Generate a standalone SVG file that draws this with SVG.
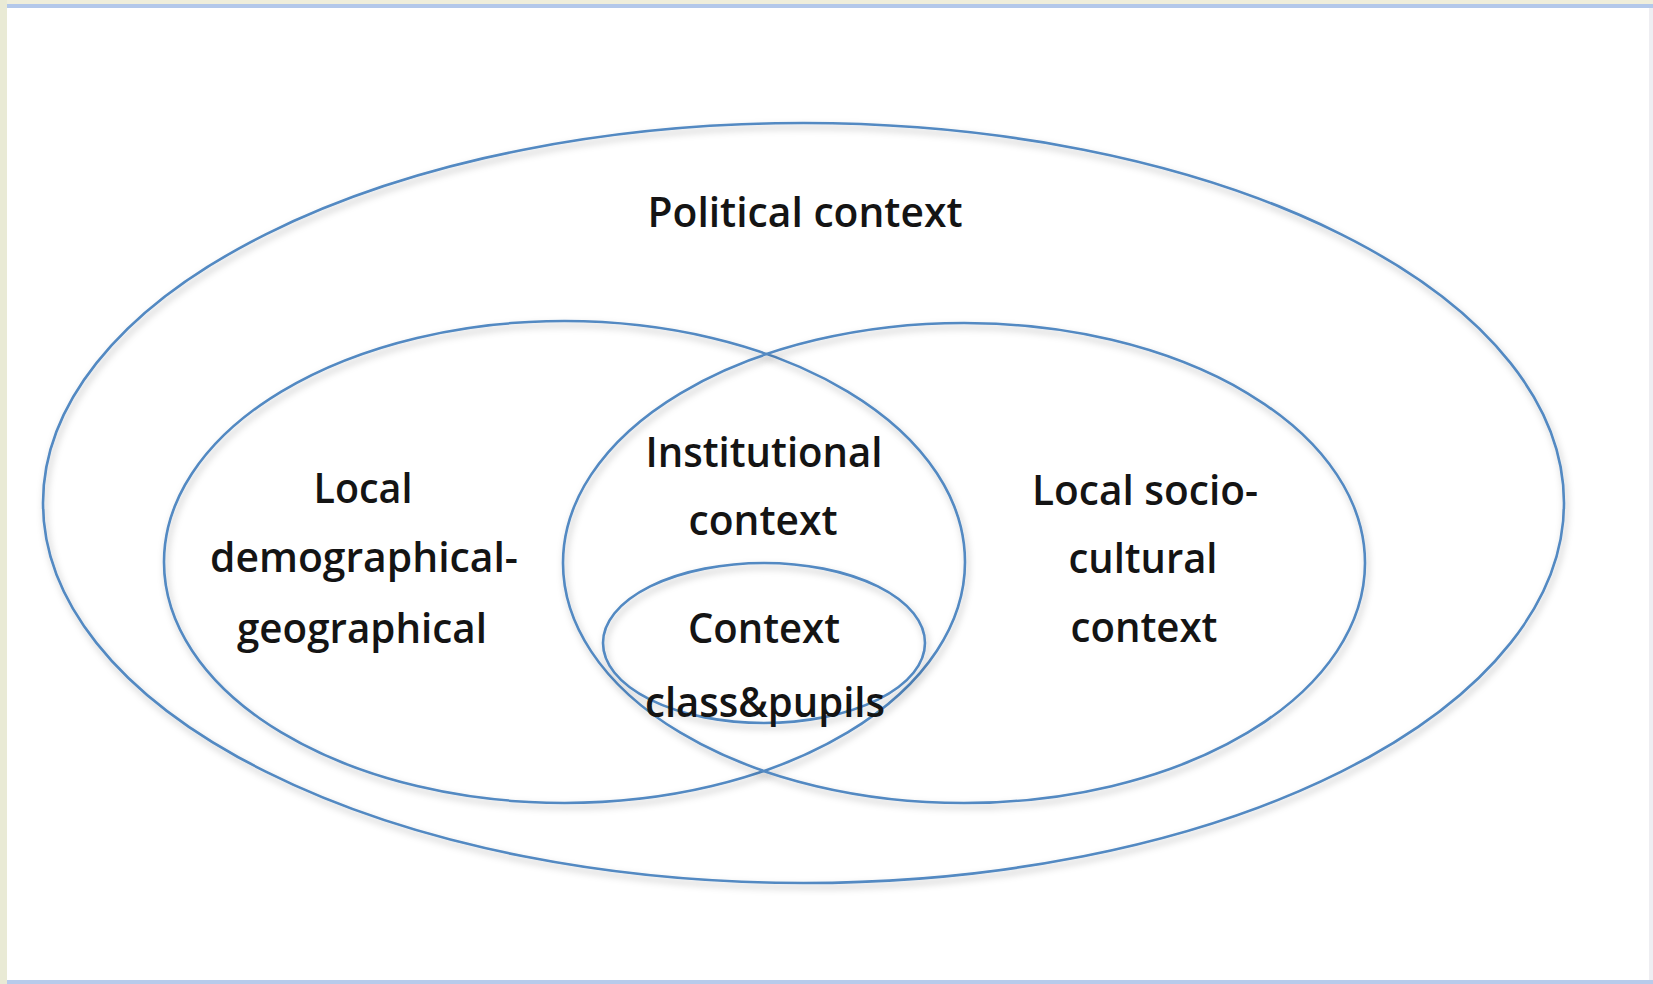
<svg xmlns="http://www.w3.org/2000/svg" width="1653" height="984" viewBox="0 0 1653 984">
  <defs>
    <filter id="shadow" x="-5%" y="-5%" width="110%" height="115%">
      <feDropShadow dx="2" dy="4" stdDeviation="3.5" flood-color="#000" flood-opacity="0.28"/>
    </filter>
    <style>
      .ring { fill: none; stroke: #5289c2; stroke-width: 2.6; filter: url(#shadow); }
      .lbl { font-family: "Open Sans", "Noto Sans", "Liberation Sans", sans-serif; font-size: 41px; font-weight: 600; fill: #141414; text-anchor: middle; }
    </style>
  </defs>

  <!-- page frame -->
  <rect x="0" y="0" width="1653" height="984" fill="#ffffff"/>
  <rect x="0" y="0" width="1653" height="4" fill="#efeedb"/>
  <rect x="0" y="0" width="7" height="984" fill="#e9ead5"/>
  <rect x="7" y="4" width="1646" height="4" fill="#b3c8ea"/>
  <rect x="7" y="980" width="1646" height="4" fill="#b8cbeb"/>
  <rect x="1649" y="8" width="4" height="972" fill="#eeeef2"/>

  <g id="connectors"/>

  <g id="political">
    <ellipse class="ring" cx="803.5" cy="503" rx="760.5" ry="380"/>
    <text class="lbl" x="805" y="227" textLength="315" lengthAdjust="spacingAndGlyphs">Political context</text>
  </g>

  <g id="demographical">
    <ellipse class="ring" cx="564.5" cy="562" rx="400.5" ry="241"/>
    <text class="lbl" x="363" y="503" textLength="99" lengthAdjust="spacingAndGlyphs">Local</text>
    <text class="lbl" x="364" y="572" textLength="308" lengthAdjust="spacingAndGlyphs">demographical-</text>
    <text class="lbl" x="362" y="643" textLength="250" lengthAdjust="spacingAndGlyphs">geographical</text>
  </g>

  <g id="sociocultural">
    <ellipse class="ring" cx="964" cy="563" rx="401" ry="240"/>
    <text class="lbl" x="1145" y="505" textLength="226" lengthAdjust="spacingAndGlyphs">Local socio-</text>
    <text class="lbl" x="1143" y="573" textLength="149" lengthAdjust="spacingAndGlyphs">cultural</text>
    <text class="lbl" x="1144" y="642" textLength="147" lengthAdjust="spacingAndGlyphs">context</text>
  </g>

  <g id="institutional">
    <text class="lbl" x="764" y="467" textLength="237" lengthAdjust="spacingAndGlyphs">Institutional</text>
    <text class="lbl" x="763" y="535" textLength="149" lengthAdjust="spacingAndGlyphs">context</text>
  </g>

  <g id="classpupils">
    <ellipse class="ring" cx="764" cy="643" rx="161" ry="80"/>
    <text class="lbl" x="764" y="643" textLength="152" lengthAdjust="spacingAndGlyphs">Context</text>
    <text class="lbl" x="765" y="717" textLength="240" lengthAdjust="spacingAndGlyphs">class&amp;pupils</text>
  </g>
</svg>
